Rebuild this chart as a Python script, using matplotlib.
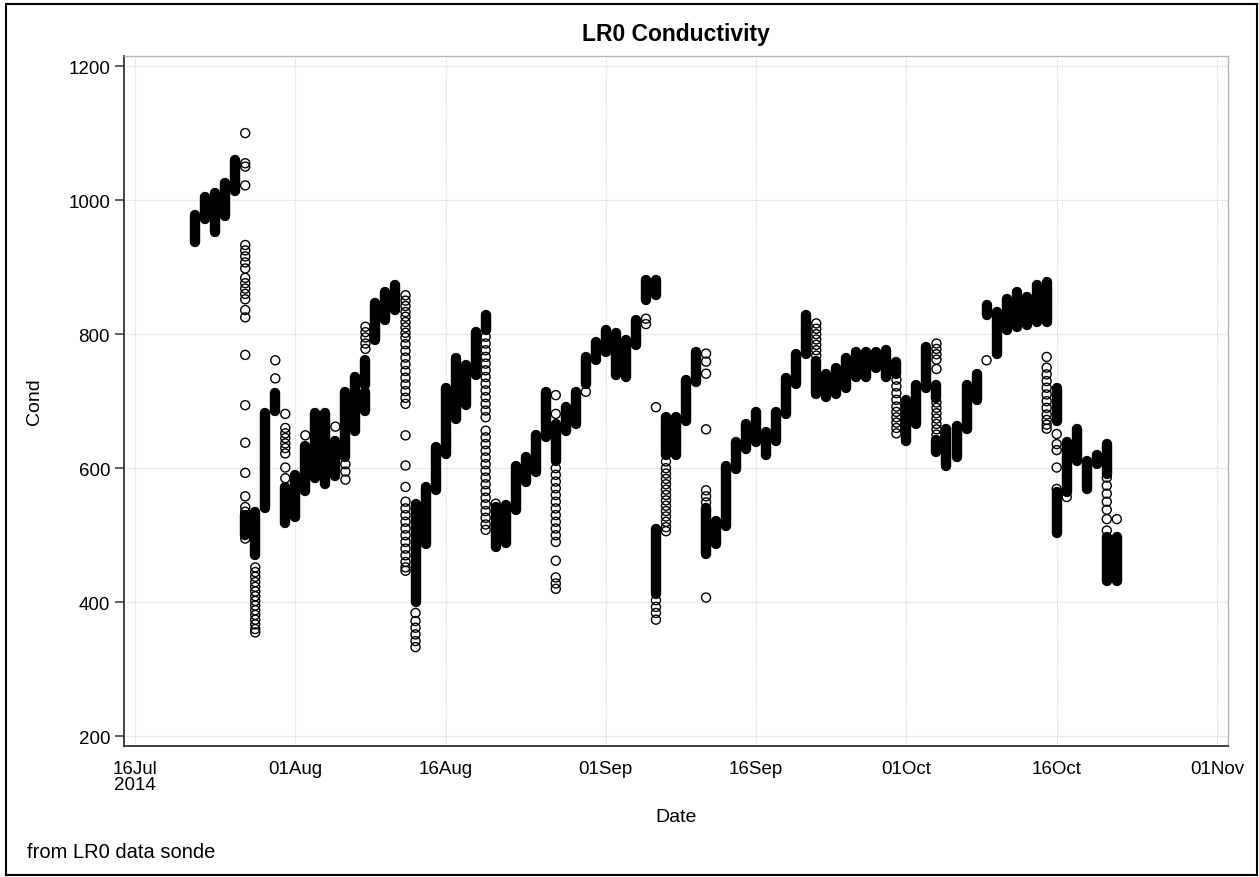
import matplotlib
matplotlib.use("Agg")
import matplotlib.pyplot as plt
import matplotlib.dates as mdates
import numpy as np
from matplotlib.patches import Rectangle

plt.rcParams['font.family'] = ['Liberation Sans', 'DejaVu Sans']

# Daily clusters of dense sonde readings (one vertical run per entry)
band_dates = [
    '2014-07-22', '2014-07-23', '2014-07-24', '2014-07-25', '2014-07-26',
    '2014-07-27', '2014-07-28', '2014-07-29', '2014-07-30', '2014-07-31',
    '2014-08-01', '2014-08-02', '2014-08-03', '2014-08-04', '2014-08-05',
    '2014-08-06', '2014-08-07', '2014-08-08', '2014-08-08', '2014-08-09',
    '2014-08-10', '2014-08-11', '2014-08-13', '2014-08-14', '2014-08-15',
    '2014-08-16', '2014-08-17', '2014-08-18', '2014-08-19', '2014-08-20',
    '2014-08-21', '2014-08-22', '2014-08-23', '2014-08-24', '2014-08-25',
    '2014-08-26', '2014-08-27', '2014-08-28', '2014-08-29', '2014-08-30',
    '2014-08-31', '2014-09-01', '2014-09-02', '2014-09-03', '2014-09-04',
    '2014-09-05', '2014-09-06', '2014-09-06', '2014-09-07', '2014-09-08',
    '2014-09-09', '2014-09-10', '2014-09-11', '2014-09-12', '2014-09-13',
    '2014-09-14', '2014-09-15', '2014-09-16', '2014-09-17', '2014-09-18',
    '2014-09-19', '2014-09-20', '2014-09-21', '2014-09-22', '2014-09-23',
    '2014-09-24', '2014-09-25', '2014-09-26', '2014-09-27', '2014-09-28',
    '2014-09-29', '2014-09-30', '2014-10-01', '2014-10-02', '2014-10-03',
    '2014-10-04', '2014-10-04', '2014-10-05', '2014-10-06', '2014-10-07',
    '2014-10-08', '2014-10-09', '2014-10-10', '2014-10-11', '2014-10-12',
    '2014-10-13', '2014-10-14', '2014-10-15', '2014-10-16', '2014-10-16',
    '2014-10-17', '2014-10-18', '2014-10-19', '2014-10-20', '2014-10-21',
    '2014-10-21', '2014-10-22',
]
band_lo = [
    938, 972, 953, 976, 1013,
    500, 470, 540, 685, 518,
    527, 566, 585, 577, 588,
    616, 656, 724, 686, 791,
    821, 836, 400, 487, 567,
    621, 674, 694, 739, 806,
    482, 489, 538, 579, 594,
    647, 610, 656, 666, 726,
    761, 774, 739, 736, 784,
    851, 858, 412, 620, 619,
    671, 729, 472, 487, 514,
    599, 629, 639, 619, 641,
    681, 726, 771, 711, 706,
    711, 719, 736, 736, 749,
    736, 740, 641, 666, 719,
    705, 624, 604, 616, 658,
    701, 828, 771, 806, 811,
    813, 818, 818, 671, 504,
    565, 611, 569, 606, 591,
    432, 432,
]
band_hi = [
    978, 1005, 1010, 1026, 1060,
    530, 535, 683, 712, 572,
    590, 633, 683, 683, 640,
    714, 736, 761, 714, 846,
    863, 873, 547, 572, 632,
    719, 764, 754, 803, 828,
    542, 545, 603, 617, 649,
    714, 666, 691, 714, 766,
    789, 806, 801, 791, 821,
    881, 881, 509, 676, 676,
    731, 774, 540, 521, 604,
    639, 666, 684, 654, 684,
    734, 771, 828, 760, 741,
    749, 764, 774, 774, 774,
    776, 759, 701, 724, 781,
    724, 642, 658, 663, 724,
    741, 843, 833, 853, 863,
    856, 873, 878, 719, 565,
    639, 658, 611, 619, 636,
    497, 497,
]

# Isolated readings that show up as separate circles
sparse_days = [
    '2014-07-27', '2014-07-28', '2014-07-30', '2014-07-31', '2014-08-02',
    '2014-08-05', '2014-08-06', '2014-08-08', '2014-08-12', '2014-08-13',
    '2014-08-20', '2014-08-21', '2014-08-27', '2014-08-30', '2014-09-05',
    '2014-09-06', '2014-09-07', '2014-09-11', '2014-09-22', '2014-09-30',
    '2014-10-04', '2014-10-09', '2014-10-15', '2014-10-16', '2014-10-17',
    '2014-10-21', '2014-10-22',
]
sparse_vals = [
    [1100, 1055, 1050, 1022, 933, 925, 916, 907, 898, 884, 876, 868, 860,
     852, 836, 825, 769, 694, 638, 593, 558, 542, 535, 520, 510, 495],
    [452, 445, 438, 430, 423, 416, 409, 402, 395, 388, 381, 374, 367, 360, 355],
    [761, 734],
    [681, 660, 652, 645, 637, 630, 622, 601, 585],
    [649],
    [662],
    [606, 595, 583],
    [811, 803, 795, 786, 778],
    [858, 850, 842, 833, 826, 818, 810, 802, 795, 785, 775, 765, 755, 745,
     735, 725, 715, 705, 696, 649, 604, 572, 550, 540, 530, 520, 510, 500,
     490, 480, 470, 460, 452, 447],
    [384, 372, 362, 352, 342, 333],
    [796, 786, 776, 766, 756, 746, 736, 726, 716, 706, 696, 686, 676, 656,
     646, 636, 626, 616, 606, 596, 586, 576, 566, 556, 546, 536, 526, 516, 508],
    [547],
    [709, 681, 600, 590, 580, 570, 560, 550, 540, 530, 520, 510, 500, 490,
     462, 437, 428, 420],
    [714],
    [823, 815],
    [691, 403, 393, 384, 374],
    [610, 600, 592, 584, 576, 568, 560, 552, 544, 536, 528, 520, 512, 506],
    [771, 759, 741, 658, 567, 558, 549, 407],
    [816, 808, 800, 792, 784, 776, 768],
    [732, 722, 712, 702, 692, 684, 676, 668, 660, 652],
    [786, 778, 770, 762, 748, 698, 690, 682, 674, 666, 658, 650],
    [761],
    [766, 750, 740, 730, 720, 710, 700, 690, 680, 672, 665, 659],
    [651, 636, 627, 601, 569],
    [557],
    [586, 574, 562, 550, 538, 524, 507],
    [524],
]

tick_dates = ['2014-07-16', '2014-08-01', '2014-08-16', '2014-09-01',
              '2014-09-16', '2014-10-01', '2014-10-16', '2014-11-01']
tick_labels = ['16Jul\n2014', '01Aug', '16Aug', '01Sep',
               '16Sep', '01Oct', '16Oct', '01Nov']
y_ticks = [200, 400, 600, 800, 1000, 1200]

W, H = 1259, 878
fig = plt.figure(figsize=(W / 100, H / 100), dpi=100)
fig.patch.set_facecolor('white')

ax_l, ax_r, ax_t, ax_b = 124, 1228, 57, 747
ax = fig.add_axes([ax_l / W, 1 - ax_b / H, (ax_r - ax_l) / W, (ax_b - ax_t) / H])

bx = np.array(band_dates, dtype='datetime64[D]')
px = np.concatenate([np.full(len(v), np.datetime64(d, 'D')) for d, v in zip(sparse_days, sparse_vals)])
py = np.concatenate([np.array(v, dtype=float) for v in sparse_vals])

marker_d = 6.5   # marker diameter in points
edge_w = 1.0
ax.vlines(mdates.date2num(bx), band_lo, band_hi, colors='black',
          linewidth=marker_d + edge_w, capstyle='round', zorder=3)
ax.scatter(mdates.date2num(px), py, s=marker_d ** 2, facecolors='none',
           edgecolors='black', linewidths=edge_w, zorder=4)

x0 = mdates.date2num(np.datetime64('2014-07-16')) - 1.1
x1 = mdates.date2num(np.datetime64('2014-11-01')) + 1.1
ax.set_xlim(x0, x1)
ax.set_ylim(185.5, 1215)

ax.set_xticks(mdates.date2num(np.array(tick_dates, dtype='datetime64[D]')))
ax.set_xticklabels(tick_labels, fontsize=13.5, ha='center', linespacing=0.95)
ax.set_yticks(y_ticks)
ax.set_yticklabels([str(v) for v in y_ticks], fontsize=13.5)

ax.tick_params(axis='x', length=0, pad=10, colors='black')
ax.tick_params(axis='y', length=6.5, width=1.1, pad=3.5, color='#333333', labelcolor='black')

ax.grid(True, color='#d9d9d9', linestyle=(0, (1, 1)), linewidth=0.9, zorder=0)
ax.set_axisbelow(True)

for side in ('left', 'bottom'):
    ax.spines[side].set_color('#333333')
    ax.spines[side].set_linewidth(1.3)
for side in ('top', 'right'):
    ax.spines[side].set_color('#b5b5b5')
    ax.spines[side].set_linewidth(1.0)

fig.text(676 / W, 1 - 35 / H, 'LR0 Conductivity', ha='center', va='center',
         fontsize=16.5, fontweight='bold')
fig.text(676 / W, 1 - 818 / H, 'Date', ha='center', va='center', fontsize=14)
fig.text(35 / W, 1 - 402 / H, 'Cond', ha='center', va='center', rotation=90, fontsize=14)
fig.text(27 / W, 1 - 853 / H, 'from LR0 data sonde', ha='left', va='center', fontsize=14.5)

fig.add_artist(Rectangle((6 / W, 1 - 876 / H), (1257 - 6) / W, (876 - 5) / H,
                         transform=fig.transFigure, fill=False,
                         edgecolor='black', linewidth=1.5))

fig.savefig('out.png', dpi=100, facecolor='white')
